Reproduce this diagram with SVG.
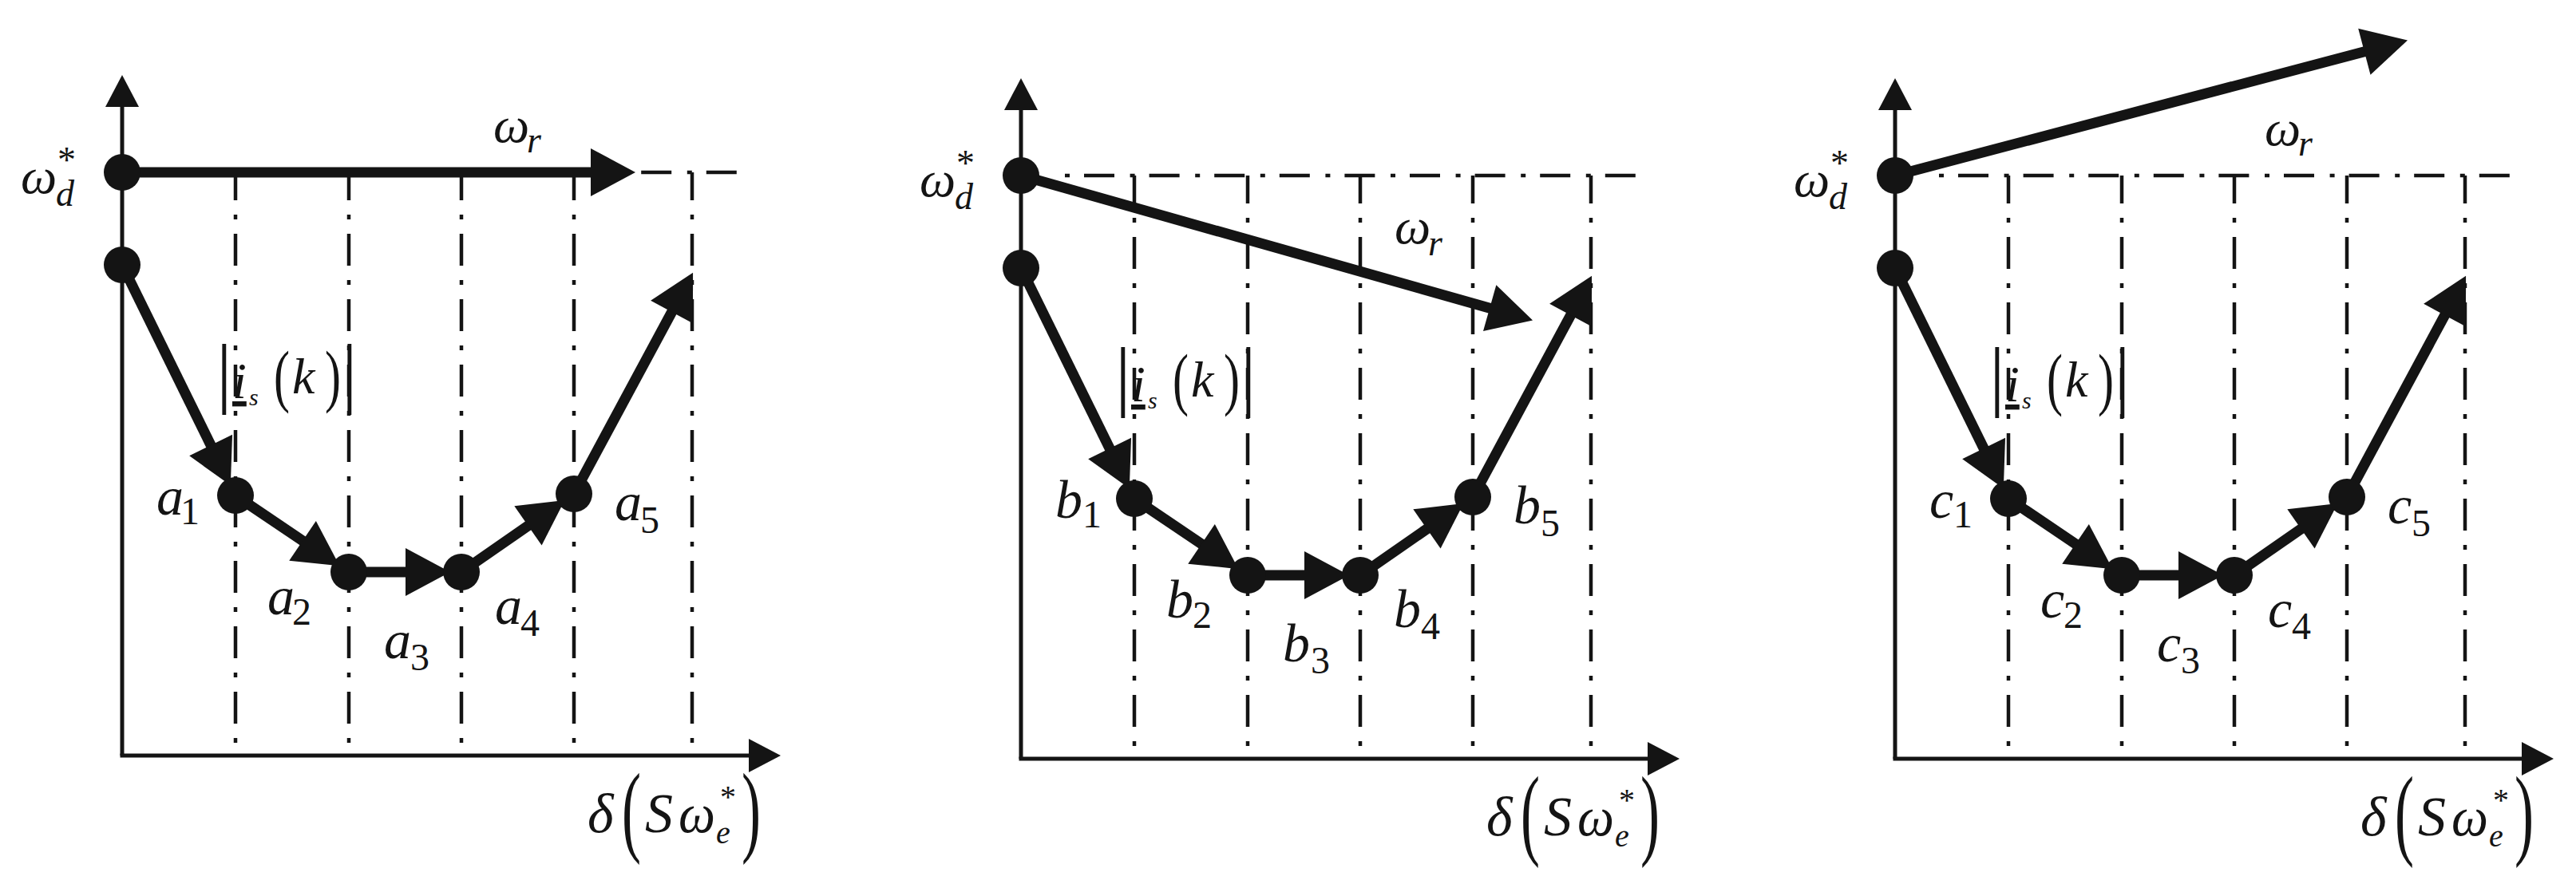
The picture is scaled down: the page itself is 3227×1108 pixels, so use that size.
<svg xmlns="http://www.w3.org/2000/svg" width="3227" height="1108" viewBox="0 0 3227 1108">
<defs>
<style>
.ax{stroke:#141414;stroke-width:5;fill:none}
.gv{stroke:#141414;stroke-width:4.5;fill:none;stroke-dasharray:40 18 6 18;stroke-dashoffset:5}
.gh{stroke:#141414;stroke-width:4.5;fill:none;stroke-dasharray:6 18 38 19.6}
.th{stroke:#141414;stroke-width:13;fill:none}
.dot{fill:#141414}
text{font-family:"Liberation Serif","Times New Roman",serif;fill:#141414;font-style:italic}
.u{font-style:normal}
.m{font-size:68px}
.w{font-size:64px}
.s{font-size:46px}
.n{font-size:48px;font-style:normal}
</style>
<marker id="ah" markerUnits="userSpaceOnUse" markerWidth="58" markerHeight="62" refX="2" refY="30" orient="auto" overflow="visible"><path d="M0,0 L56,30 L0,60 Z" fill="#141414"/></marker>
<marker id="at" markerUnits="userSpaceOnUse" markerWidth="42" markerHeight="44" refX="2" refY="21" orient="auto" overflow="visible"><path d="M0,0 L40,21 L0,42 Z" fill="#141414"/></marker>
</defs>
<rect width="3227" height="1108" fill="#ffffff"/>

<!-- ===== Panel 1 ===== -->
<g id="panel1" transform="translate(153,216)" font-family="'Liberation Serif', serif">
  <g id="p1-grid">
    <line class="gv" x1="142" y1="0" x2="142" y2="716"/>
    <line class="gv" x1="284" y1="0" x2="284" y2="716"/>
    <line class="gv" x1="425" y1="0" x2="425" y2="716"/>
    <line class="gv" x1="566" y1="0" x2="566" y2="716"/>
    <line class="gv" x1="714" y1="0" x2="714" y2="716"/>
    <line class="gh" x1="55" y1="0" x2="773" y2="0"/>
  </g>
  <g id="p1-axes">
    <line class="ax" x1="0" y1="731" x2="0" y2="-84" marker-end="url(#at)"/>
    <line class="ax" x1="-2.5" y1="731" x2="787" y2="731" marker-end="url(#at)"/>
    <text font-size="70"><tspan x="583" y="827">δ</tspan><tspan class="u" font-size="126" x="626" y="841" textLength="24" lengthAdjust="spacingAndGlyphs">(</tspan><tspan x="655" y="827">S</tspan><tspan x="697" y="827" textLength="46" lengthAdjust="spacingAndGlyphs">ω</tspan><tspan font-size="40" x="744" y="841">e</tspan><tspan class="u" font-size="40" x="749" y="796">*</tspan><tspan class="u" font-size="126" x="776" y="841" textLength="24" lengthAdjust="spacingAndGlyphs">)</tspan></text>
  </g>
  <g id="p1-connectors">
    <line class="th" x1="0" y1="0" x2="589" y2="0" marker-end="url(#ah)"/>
    <line class="th" x1="0" y1="116" x2="112" y2="343.9" marker-end="url(#ah)"/>
    <line class="th" x1="142" y1="405" x2="227.7" y2="462.9" marker-end="url(#ah)"/>
    <line class="th" x1="284" y1="501" x2="357" y2="501" marker-end="url(#ah)"/>
    <line class="th" x1="425" y1="501" x2="510.1" y2="441.8" marker-end="url(#ah)"/>
    <line class="th" x1="566" y1="403" x2="689.5" y2="173.3" marker-end="url(#ah)"/>
    <text class="w"><tspan x="465" y="-38">ω</tspan><tspan class="s" x="507" y="-25">r</tspan></text>
    <text class="w"><tspan class="u" font-size="98" x="118" y="283" textLength="19" lengthAdjust="spacing">|</tspan><tspan x="138" y="283" text-decoration="underline">i</tspan><tspan font-size="30" x="159" y="292">s</tspan><tspan class="u" font-size="86" x="190" y="284" textLength="20" lengthAdjust="spacingAndGlyphs">(</tspan><tspan x="213" y="277">k</tspan><tspan class="u" font-size="86" x="254" y="284" textLength="20" lengthAdjust="spacingAndGlyphs">)</tspan><tspan class="u" font-size="98" x="275" y="283">|</tspan></text>
  </g>
  <g id="p1-wd">
    <circle class="dot" cx="0" cy="0" r="23"/>
    <text class="w"><tspan x="-127" y="26">ω</tspan><tspan class="u s" x="-81" y="0">*</tspan><tspan class="s" x="-83" y="42">d</tspan></text>
  </g>
  <g id="p1-start"><circle class="dot" cx="0" cy="116" r="23"/></g>
  <g id="p1-a1"><circle class="dot" cx="142" cy="405" r="23"/>
    <text class="m"><tspan x="43" y="429">a</tspan><tspan class="n" x="73" y="441">1</tspan></text></g>
  <g id="p1-a2"><circle class="dot" cx="284" cy="501" r="23"/>
    <text class="m"><tspan x="182" y="554">a</tspan><tspan class="n" x="213" y="567">2</tspan></text></g>
  <g id="p1-a3"><circle class="dot" cx="425" cy="501" r="23"/>
    <text class="m"><tspan x="328" y="609">a</tspan><tspan class="n" x="361" y="624">3</tspan></text>
    <text class="m"><tspan x="467" y="566">a</tspan><tspan class="n" x="499" y="581">4</tspan></text></g>
  <g id="p1-a4"><circle class="dot" cx="566" cy="403" r="23"/>
    <text class="m"><tspan x="617" y="436">a</tspan><tspan class="n" x="649" y="452">5</tspan></text></g>
</g>

<!-- ===== Panel 2 ===== -->
<g id="panel2" transform="translate(1279,220)" font-family="'Liberation Serif', serif">
  <g id="p2-grid">
    <line class="gv" x1="142" y1="0" x2="142" y2="716"/>
    <line class="gv" x1="284" y1="0" x2="284" y2="716"/>
    <line class="gv" x1="425" y1="0" x2="425" y2="716"/>
    <line class="gv" x1="566" y1="0" x2="566" y2="716"/>
    <line class="gv" x1="714" y1="0" x2="714" y2="716"/>
    <line class="gh" x1="55" y1="0" x2="773" y2="0"/>
  </g>
  <g id="p2-axes">
    <line class="ax" x1="0" y1="731" x2="0" y2="-84" marker-end="url(#at)"/>
    <line class="ax" x1="-2.5" y1="731" x2="787" y2="731" marker-end="url(#at)"/>
    <text font-size="70"><tspan x="583" y="827">δ</tspan><tspan class="u" font-size="126" x="626" y="841" textLength="24" lengthAdjust="spacingAndGlyphs">(</tspan><tspan x="655" y="827">S</tspan><tspan x="697" y="827" textLength="46" lengthAdjust="spacingAndGlyphs">ω</tspan><tspan font-size="40" x="744" y="841">e</tspan><tspan class="u" font-size="40" x="749" y="796">*</tspan><tspan class="u" font-size="126" x="776" y="841" textLength="24" lengthAdjust="spacingAndGlyphs">)</tspan></text>
  </g>
  <g id="p2-connectors">
    <line class="th" x1="0" y1="0" x2="589.1" y2="166.75" marker-end="url(#ah)"/>
    <line class="th" x1="0" y1="116" x2="112" y2="343.9" marker-end="url(#ah)"/>
    <line class="th" x1="142" y1="405" x2="227.7" y2="462.9" marker-end="url(#ah)"/>
    <line class="th" x1="284" y1="501" x2="357" y2="501" marker-end="url(#ah)"/>
    <line class="th" x1="425" y1="501" x2="510.1" y2="441.8" marker-end="url(#ah)"/>
    <line class="th" x1="566" y1="403" x2="689.5" y2="173.3" marker-end="url(#ah)"/>
    <text class="w"><tspan x="468" y="85">ω</tspan><tspan class="s" x="510" y="100">r</tspan></text>
    <text class="w"><tspan class="u" font-size="98" x="118" y="283" textLength="19" lengthAdjust="spacing">|</tspan><tspan x="138" y="283" text-decoration="underline">i</tspan><tspan font-size="30" x="159" y="292">s</tspan><tspan class="u" font-size="86" x="190" y="284" textLength="20" lengthAdjust="spacingAndGlyphs">(</tspan><tspan x="213" y="277">k</tspan><tspan class="u" font-size="86" x="254" y="284" textLength="20" lengthAdjust="spacingAndGlyphs">)</tspan><tspan class="u" font-size="98" x="275" y="283">|</tspan></text>
  </g>
  <g id="p2-wd">
    <circle class="dot" cx="0" cy="0" r="23"/>
    <text class="w"><tspan x="-127" y="26">ω</tspan><tspan class="u s" x="-81" y="0">*</tspan><tspan class="s" x="-83" y="42">d</tspan></text>
  </g>
  <g id="p2-start"><circle class="dot" cx="0" cy="116" r="23"/></g>
  <g id="p2-b1"><circle class="dot" cx="142" cy="405" r="23"/>
    <text class="m"><tspan x="43" y="429">b</tspan><tspan class="n" x="77" y="441">1</tspan></text></g>
  <g id="p2-b2"><circle class="dot" cx="284" cy="501" r="23"/>
    <text class="m"><tspan x="182" y="554">b</tspan><tspan class="n" x="215" y="567">2</tspan></text></g>
  <g id="p2-b3"><circle class="dot" cx="425" cy="501" r="23"/>
    <text class="m"><tspan x="328" y="609">b</tspan><tspan class="n" x="363" y="624">3</tspan></text>
    <text class="m"><tspan x="467" y="566">b</tspan><tspan class="n" x="501" y="581">4</tspan></text></g>
  <g id="p2-b4"><circle class="dot" cx="566" cy="403" r="23"/>
    <text class="m"><tspan x="617" y="436">b</tspan><tspan class="n" x="651" y="452">5</tspan></text></g>
</g>

<!-- ===== Panel 3 ===== -->
<g id="panel3" transform="translate(2374,220)" font-family="'Liberation Serif', serif">
  <g id="p3-grid">
    <line class="gv" x1="142" y1="0" x2="142" y2="716"/>
    <line class="gv" x1="284" y1="0" x2="284" y2="716"/>
    <line class="gv" x1="425" y1="0" x2="425" y2="716"/>
    <line class="gv" x1="566" y1="0" x2="566" y2="716"/>
    <line class="gv" x1="714" y1="0" x2="714" y2="716"/>
    <line class="gh" x1="55" y1="0" x2="773" y2="0"/>
  </g>
  <g id="p3-axes">
    <line class="ax" x1="0" y1="731" x2="0" y2="-84" marker-end="url(#at)"/>
    <line class="ax" x1="-2.5" y1="731" x2="787" y2="731" marker-end="url(#at)"/>
    <text font-size="70"><tspan x="583" y="827">δ</tspan><tspan class="u" font-size="126" x="626" y="841" textLength="24" lengthAdjust="spacingAndGlyphs">(</tspan><tspan x="655" y="827">S</tspan><tspan x="697" y="827" textLength="46" lengthAdjust="spacingAndGlyphs">ω</tspan><tspan font-size="40" x="744" y="841">e</tspan><tspan class="u" font-size="40" x="749" y="796">*</tspan><tspan class="u" font-size="126" x="776" y="841" textLength="24" lengthAdjust="spacingAndGlyphs">)</tspan></text>
  </g>
  <g id="p3-connectors">
    <line class="th" x1="0" y1="0" x2="589.8" y2="-155.7" marker-end="url(#ah)"/>
    <line class="th" x1="0" y1="116" x2="112" y2="343.9" marker-end="url(#ah)"/>
    <line class="th" x1="142" y1="405" x2="227.7" y2="462.9" marker-end="url(#ah)"/>
    <line class="th" x1="284" y1="501" x2="357" y2="501" marker-end="url(#ah)"/>
    <line class="th" x1="425" y1="501" x2="510.1" y2="441.8" marker-end="url(#ah)"/>
    <line class="th" x1="566" y1="403" x2="689.5" y2="173.3" marker-end="url(#ah)"/>
    <text class="w"><tspan x="463" y="-38">ω</tspan><tspan class="s" x="505" y="-25">r</tspan></text>
    <text class="w"><tspan class="u" font-size="98" x="118" y="283" textLength="19" lengthAdjust="spacing">|</tspan><tspan x="138" y="283" text-decoration="underline">i</tspan><tspan font-size="30" x="159" y="292">s</tspan><tspan class="u" font-size="86" x="190" y="284" textLength="20" lengthAdjust="spacingAndGlyphs">(</tspan><tspan x="213" y="277">k</tspan><tspan class="u" font-size="86" x="254" y="284" textLength="20" lengthAdjust="spacingAndGlyphs">)</tspan><tspan class="u" font-size="98" x="275" y="283">|</tspan></text>
  </g>
  <g id="p3-wd">
    <circle class="dot" cx="0" cy="0" r="23"/>
    <text class="w"><tspan x="-127" y="26">ω</tspan><tspan class="u s" x="-81" y="0">*</tspan><tspan class="s" x="-83" y="42">d</tspan></text>
  </g>
  <g id="p3-start"><circle class="dot" cx="0" cy="116" r="23"/></g>
  <g id="p3-c1"><circle class="dot" cx="142" cy="405" r="23"/>
    <text class="m"><tspan x="43" y="429">c</tspan><tspan class="n" x="73" y="441">1</tspan></text></g>
  <g id="p3-c2"><circle class="dot" cx="284" cy="501" r="23"/>
    <text class="m"><tspan x="182" y="554">c</tspan><tspan class="n" x="211" y="567">2</tspan></text></g>
  <g id="p3-c3"><circle class="dot" cx="425" cy="501" r="23"/>
    <text class="m"><tspan x="328" y="609">c</tspan><tspan class="n" x="358" y="624">3</tspan></text>
    <text class="m"><tspan x="467" y="566">c</tspan><tspan class="n" x="497" y="581">4</tspan></text></g>
  <g id="p3-c4"><circle class="dot" cx="566" cy="403" r="23"/>
    <text class="m"><tspan x="617" y="436">c</tspan><tspan class="n" x="647" y="452">5</tspan></text></g>
</g>
</svg>
